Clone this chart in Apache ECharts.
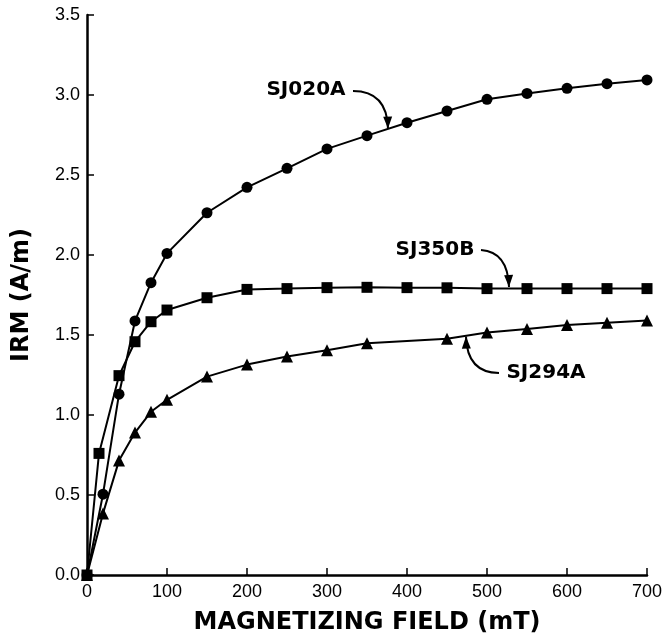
<!DOCTYPE html>
<html>
<head>
<meta charset="utf-8">
<script src="https://cdn.jsdelivr.net/npm/echarts@6/dist/echarts.min.js"></script>
<style>
html,body{margin:0;padding:0;background:#fff;}
#chart{width:668px;height:644px;}
</style>
</head>
<body>
<div id="chart"></div>
<script>
// ---- data ----
var fieldSJ020A = [0, 20, 40, 60, 80, 100, 150, 200, 250, 300, 350, 400, 450, 500, 550, 600, 650, 700];
var irmSJ020A   = [0, 0.505, 1.13, 1.588, 1.827, 2.01, 2.264, 2.423, 2.542, 2.663, 2.746, 2.827, 2.90, 2.973, 3.01, 3.042, 3.071, 3.094];

var fieldSJ350B = [0, 15, 40, 60, 80, 100, 150, 200, 250, 300, 350, 400, 450, 500, 550, 600, 650, 700];
var irmSJ350B   = [0, 0.76, 1.246, 1.458, 1.583, 1.656, 1.733, 1.785, 1.79, 1.796, 1.798, 1.796, 1.795, 1.79, 1.79, 1.79, 1.79, 1.79];

var fieldSJ294A = [0, 20, 40, 60, 80, 100, 150, 200, 250, 300, 350, 450, 500, 550, 600, 650, 700];
var irmSJ294A   = [0, 0.385, 0.715, 0.89, 1.02, 1.095, 1.24, 1.315, 1.365, 1.405, 1.448, 1.477, 1.515, 1.538, 1.562, 1.577, 1.59];

var seriesNames = ['SJ020A', 'SJ350B', 'SJ294A'];
var xTicks = [0, 100, 200, 300, 400, 500, 600, 700];
var yTicks = [0, 0.5, 1.0, 1.5, 2.0, 2.5, 3.0, 3.5];

// annotation anchors in data coordinates: text centre, arrow start, control, tip
var annText  = [[273.75, 3.031], [435, 2.031], [573.75, 1.2625]];
var annStart = [[332.5, 3.025], [492.5, 2.031], [515, 1.2625]];
var annCtrl  = [[375, 3.025], [526, 2.02], [475, 1.265]];
var annTip   = [[376.25, 2.79], [527.5, 1.80], [473.75, 1.49]];

function pairs(xs, ys){ return xs.map(function(x,i){ return [x, ys[i]]; }); }

var chart = echarts.init(document.getElementById('chart'), null, {renderer:'canvas'});
var lineStyle = {color:'#000', width:2};
var itemStyle = {color:'#000'};
var option = {
  animation:false,
  backgroundColor:'#fff',
  grid:{left:87, right:21, top:15, bottom:69, containLabel:false},
  xAxis:{
    type:'value', min:xTicks[0], max:xTicks[xTicks.length-1], interval:100,
    name:'MAGNETIZING FIELD (mT)', nameLocation:'middle', nameGap:36,
    nameTextStyle:{fontFamily:'DejaVu Sans', fontWeight:'bold', fontSize:24, color:'#000'},
    axisLine:{show:true, onZero:false, lineStyle:{color:'#000', width:2.5}},
    axisTick:{show:true, inside:true, length:7, lineStyle:{color:'#000', width:1.5}},
    axisLabel:{fontFamily:'Liberation Sans', fontSize:18, color:'#000', margin:8},
    splitLine:{show:false}
  },
  yAxis:{
    type:'value', min:yTicks[0], max:yTicks[yTicks.length-1], interval:0.5,
    name:'IRM (A/m)', nameLocation:'middle', nameGap:53,
    nameTextStyle:{fontFamily:'DejaVu Sans', fontWeight:'bold', fontSize:24, color:'#000'},
    axisLine:{show:true, onZero:false, lineStyle:{color:'#000', width:2.5}},
    axisTick:{show:true, inside:true, length:7, lineStyle:{color:'#000', width:1.5}},
    axisLabel:{fontFamily:'Liberation Sans', fontSize:18, color:'#000', margin:7,
      formatter:function(v){ return v.toFixed(1); }},
    splitLine:{show:false}
  },
  series:[
    {name:seriesNames[0], type:'line', data:pairs(fieldSJ020A, irmSJ020A), symbol:'circle', symbolSize:11,
     showAllSymbol:true, lineStyle:lineStyle, itemStyle:itemStyle, z:3},
    {name:seriesNames[1], type:'line', data:pairs(fieldSJ350B, irmSJ350B), symbol:'rect', symbolSize:11,
     showAllSymbol:true, lineStyle:lineStyle, itemStyle:itemStyle, z:3},
    {name:seriesNames[2], type:'line', data:pairs(fieldSJ294A, irmSJ294A), symbol:'triangle', symbolSize:12,
     showAllSymbol:true, lineStyle:lineStyle, itemStyle:itemStyle, z:3}
  ]
};
chart.setOption(option);

function px(p){ return chart.convertToPixel({gridIndex:0}, p); }
var graphics = [];
for (var i = 0; i < seriesNames.length; i++) {
  var t = px(annText[i]), s = px(annStart[i]), c = px(annCtrl[i]), e = px(annTip[i]);
  graphics.push({type:'text', x:t[0], y:t[1], z:10,
    style:{text:seriesNames[i], font:'bold 20px "DejaVu Sans"', fill:'#000', align:'center', verticalAlign:'middle'}});
  graphics.push({type:'bezierCurve', z:10,
    shape:{x1:s[0], y1:s[1], cpx1:c[0], cpy1:c[1], x2:e[0], y2:e[1]},
    style:{stroke:'#000', lineWidth:2, fill:null}});
  // arrowhead along direction control->tip
  var dx = e[0]-c[0], dy = e[1]-c[1], L = Math.sqrt(dx*dx+dy*dy);
  dx/=L; dy/=L;
  var hl = 12, hw = 4.5;
  var bx = e[0]-dx*hl, by = e[1]-dy*hl;
  graphics.push({type:'polygon', z:10,
    shape:{points:[[e[0],e[1]],[bx-dy*hw, by+dx*hw],[bx+dy*hw, by-dx*hw]]},
    style:{fill:'#000'}});
}
chart.setOption({graphic:graphics});
</script>
</body>
</html>
